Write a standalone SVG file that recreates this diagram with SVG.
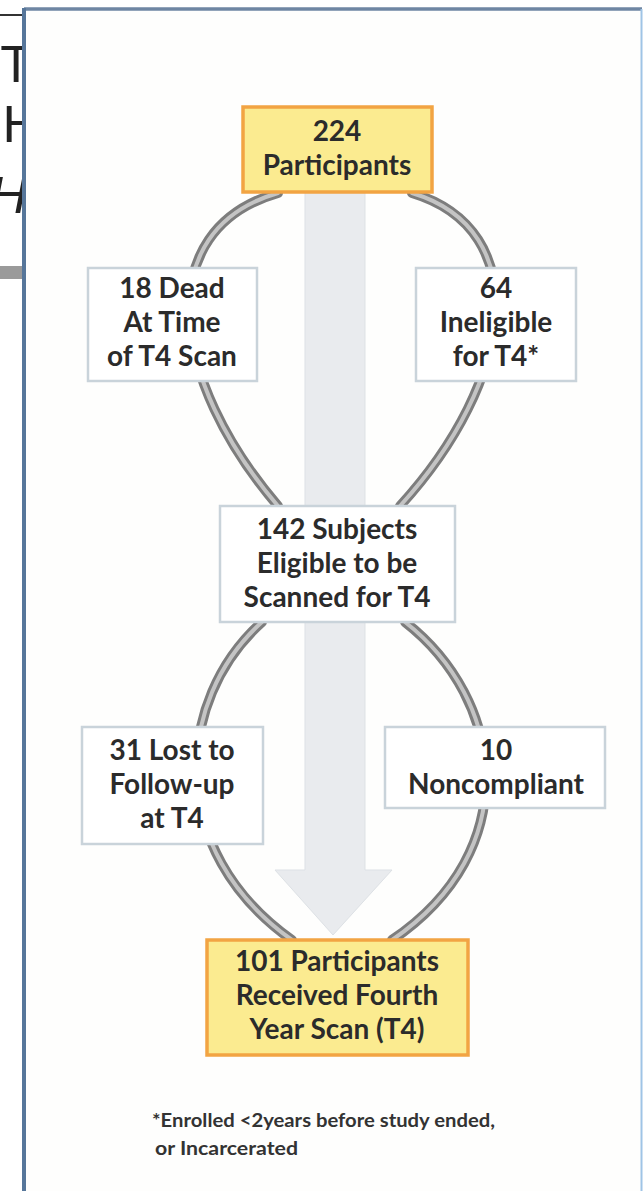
<svg xmlns="http://www.w3.org/2000/svg" width="644" height="1191" viewBox="0 0 644 1191">
<style>
.t{font-family:Lato,"Open Sans","Liberation Sans",sans-serif;font-weight:700;font-size:28px;fill:#2b2b2b;text-anchor:middle}
.fn{font-family:Lato,"Open Sans","Liberation Sans",sans-serif;font-weight:700;font-size:18px;fill:#333}
.pg{font-family:"Liberation Sans",Arial,sans-serif;font-size:52px;fill:#222}
.y{fill:#fbeb90;stroke:#f2a443;stroke-width:3.5}
.g{fill:#ffffff;stroke:#c9d3da;stroke-width:2.5}
.tubeo{fill:none;stroke:#7d7d7d;stroke-width:10;stroke-linecap:round}
.tubei{fill:none;stroke:#c4c4c4;stroke-width:4;stroke-linecap:round}
</style>
<rect x="0" y="0" width="644" height="1191" fill="#ffffff"/>
<g id="page-left">
<line x1="0" y1="15" x2="24" y2="15" stroke="#333" stroke-width="2"/>
<text class="pg" x="32" y="82" text-anchor="end">XT</text>
<text class="pg" x="40" y="142" text-anchor="end">H</text>
<text class="pg" x="27" y="213" font-size="46" font-style="italic" fill="#333" text-anchor="end">H</text>
<rect x="0" y="266" width="24" height="13" fill="#9a9a9a"/>
</g>
<g id="frame">
<rect x="24" y="9" width="618" height="1190" fill="#fefefd"/>
<line x1="24" y1="9" x2="642" y2="9" stroke="#6e86a3" stroke-width="3.5"/>
<line x1="24" y1="8" x2="24" y2="1191" stroke="#56769a" stroke-width="4"/>
<line x1="641.5" y1="9" x2="641.5" y2="1191" stroke="#9fc4e6" stroke-width="2"/>
</g>
<g id="flow-arrow">
<polygon points="305,190 365,190 365,870 392,870 333,935 275,870 305,870" fill="#e9ebee" stroke="#dde1e5" stroke-width="1"/>
</g>
<g id="connectors">
<path class="tubeo" d="M 278 193 C 150 230, 170 380, 278 506"/>
<path class="tubei" d="M 278 193 C 150 230, 170 380, 278 506"/>
<path class="tubeo" d="M 412 193 C 535 230, 515 380, 400 506"/>
<path class="tubei" d="M 412 193 C 535 230, 515 380, 400 506"/>
<path class="tubeo" d="M 262 622 C 175 700, 165 850, 292 940"/>
<path class="tubei" d="M 262 622 C 175 700, 165 850, 292 940"/>
<path class="tubeo" d="M 405 622 C 505 700, 525 850, 392 940"/>
<path class="tubei" d="M 405 622 C 505 700, 525 850, 392 940"/>
</g>
<g id="n224">
<rect class="y" x="243" y="107" width="189" height="85"/>
<text class="t" x="337" y="141">224</text>
<text class="t" x="337" y="175">Participants</text>
</g>
<g id="dead">
<rect class="g" x="88" y="268" width="169" height="113"/>
<text class="t" x="172" y="298">18 Dead</text>
<text class="t" x="172" y="332">At Time</text>
<text class="t" x="172" y="366">of T4 Scan</text>
</g>
<g id="ineligible">
<rect class="g" x="416" y="268" width="160" height="113"/>
<text class="t" x="496" y="298">64</text>
<text class="t" x="496" y="332">Ineligible</text>
<text class="t" x="496" y="366">for T4*</text>
</g>
<g id="eligible">
<rect class="g" x="220" y="506" width="235" height="116"/>
<text class="t" x="337" y="539">142 Subjects</text>
<text class="t" x="337" y="573">Eligible to be</text>
<text class="t" x="337" y="607">Scanned for T4</text>
</g>
<g id="lost">
<rect class="g" x="82" y="727" width="181" height="117"/>
<text class="t" x="172" y="760">31 Lost to</text>
<text class="t" x="172" y="794">Follow-up</text>
<text class="t" x="172" y="828">at T4</text>
</g>
<g id="noncompliant">
<rect class="g" x="385" y="727" width="220" height="81"/>
<text class="t" x="496" y="760">10</text>
<text class="t" x="496" y="794">Noncompliant</text>
</g>
<g id="n101">
<rect class="y" x="207" y="940" width="261" height="115"/>
<text class="t" x="337" y="971">101 Participants</text>
<text class="t" x="337" y="1005">Received Fourth</text>
<text class="t" x="337" y="1039">Year Scan (T4)</text>
</g>
<g id="footnote">
<text class="fn" x="152" y="1127" textLength="343" lengthAdjust="spacingAndGlyphs">*Enrolled &lt;2years before study ended,</text>
<text class="fn" x="155" y="1155" textLength="143" lengthAdjust="spacingAndGlyphs">or Incarcerated</text>
</g>
</svg>
